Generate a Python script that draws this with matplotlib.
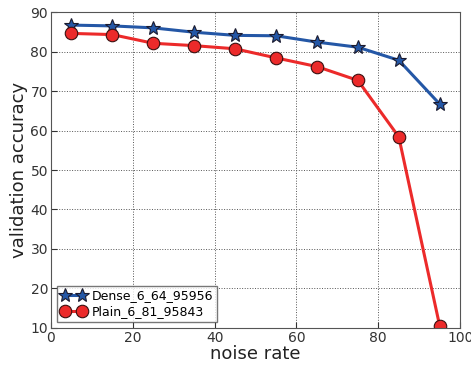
import matplotlib
matplotlib.use('Agg')
from matplotlib import pyplot as plt

noise_rate = [5, 15, 25, 35, 45, 55, 65, 75, 85, 95]
dense_acc = [86.7, 86.5, 86.0, 84.9, 84.1, 84.0, 82.4, 81.1, 77.8, 66.7]
plain_acc = [84.6, 84.3, 82.1, 81.5, 80.7, 78.4, 76.2, 72.7, 58.4, 10.5]

fig = plt.figure(figsize=(4.71, 3.66), dpi=100)
ax = fig.add_axes([0.108, 0.104, 0.869, 0.863])

ax.plot(noise_rate, dense_acc, color='#2457a6', lw=2.2, marker='*', ms=10,
        mfc='#2457a6', mec='#1a1a2e', mew=0.8, label='Dense_6_64_95956')
ax.plot(noise_rate, plain_acc, color='#ec2a2a', lw=2.2, marker='o', ms=9,
        mfc='#ec2a2a', mec='#3a1010', mew=0.8, label='Plain_6_81_95843')

ax.set_xlim(0, 100)
ax.set_ylim(10, 90)
ax.set_xticks([0, 20, 40, 60, 80, 100])
ax.set_yticks(range(10, 91, 10))
ax.grid(True, color='#555555', linestyle=':', linewidth=0.7)
ax.tick_params(direction='in', labelsize=10, colors='#333333', length=4, pad=2)
for s in ax.spines.values():
    s.set_color('#555555')
ax.set_xlabel('noise rate', fontsize=13, color='#222222', labelpad=0)
ax.set_ylabel('validation accuracy', fontsize=13, color='#222222', labelpad=2)

leg = ax.legend(loc='lower left', numpoints=2, fontsize=9, fancybox=False,
                borderaxespad=0.5, handlelength=2.0, labelspacing=0.2,
                borderpad=0.3, handletextpad=0.5)
leg.get_frame().set_edgecolor('#555555')
leg.get_frame().set_linewidth(1.0)

fig.savefig('out.png', dpi=100)
